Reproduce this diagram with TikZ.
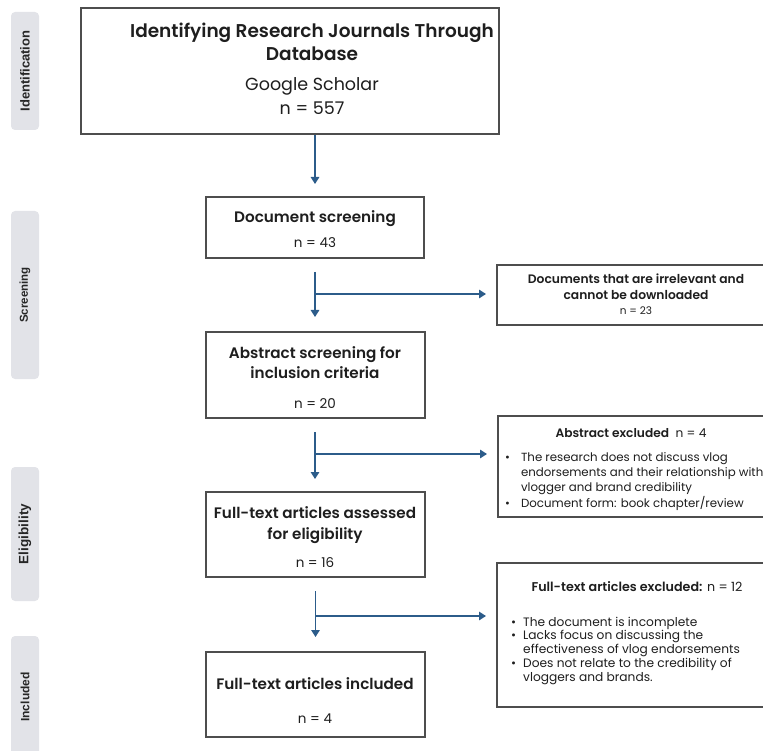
\documentclass[tikz,border=0pt]{standalone}
\usepackage{fontspec}
\setmainfont{Poppins}[BoldFont={Poppins SemiBold}]
\newfontfamily\labfont{Liberation Sans}
\usetikzlibrary{arrows.meta}
\definecolor{arrblue}{RGB}{44,92,138}
\definecolor{boxgray}{RGB}{78,78,78}
\definecolor{labgray}{RGB}{226,227,232}
\definecolor{txt}{RGB}{30,30,30}
\begin{document}
\begin{tikzpicture}[x=1pt,y=-1pt,
  box/.style={draw=boxgray, line width=2pt, inner sep=0pt, fill=white, rectangle},
  arr/.style={draw=arrblue, line width=1.5pt, -{Triangle[length=7pt,width=8.5pt]}},
  phase/.style={fill=labgray, rounded corners=4pt, inner sep=0pt, rectangle},
  phasetext/.style={rotate=90, inner sep=0pt, text=black!85},
  mtext/.style={align=center, inner sep=0pt, text=txt},
  btext/.style={align=left, inner sep=0pt, text=txt, anchor=west}
]
\useasboundingbox (0,0) rectangle (763,751);
\clip (0,0) rectangle (763,751);

% phase labels
\node[phase, minimum width=28pt, minimum height=118pt] (pid) at (25,71) {};
\node[phase, minimum width=28pt, minimum height=168pt] (pscr) at (25,295) {};
\node[phase, minimum width=28pt, minimum height=134pt] (pel) at (25,534) {};
\node[phase, minimum width=28pt, minimum height=124pt] (pin) at (25,698) {};
\node[phasetext, font=\labfont\bfseries\fontsize{13}{15}\selectfont] (lid) at (pid.center) {Identification};
\node[phasetext, font=\labfont\bfseries\fontsize{11.5}{14}\selectfont] (lscr) at (pscr.center) {Screening};
\node[phasetext, font=\labfont\bfseries\fontsize{13.5}{15}\selectfont] (lel) at (pel.center) {Eligibility};
\node[phasetext, font=\labfont\bfseries\fontsize{12}{14}\selectfont] (lin) at (25,697) {Included};

% main boxes
\node[box, minimum width=418pt, minimum height=126pt] (top) at (290,71) {};
\node[box, minimum width=218pt, minimum height=61pt] (dscr) at (315,227.5) {};
\node[box, minimum width=219pt, minimum height=86pt] (abs) at (315,375) {};
\node[box, minimum width=219pt, minimum height=85pt] (full) at (315.5,534.5) {};
\node[box, minimum width=219pt, minimum height=85pt] (incl) at (315.5,694.5) {};

% right boxes
\node[box, minimum width=278pt, minimum height=60pt] (rb1) at (636,295) {};
\node[box, minimum width=277pt, minimum height=101pt] (rb2) at (636.5,466.5) {};
\node[box, minimum width=278pt, minimum height=144pt] (rb3) at (636,635) {};

% main texts
\node[mtext, font=\fontsize{18.5}{23.5}\selectfont] (ttop) at (312,68.5) {%
  {\bfseries Identifying Research Journals Through}\\
  {\bfseries Database}\\[6.5pt]
  {\fontsize{17.5}{23.5}\selectfont Google Scholar}\\
  {\fontsize{17.5}{23.5}\selectfont n = 557}};
\node[mtext, font=\fontsize{15.2}{20}\selectfont] (tdscr) at (315,229.5) {%
  {\bfseries Document screening}\\[5pt]
  {\fontsize{13.5}{20}\selectfont n = 43}};
\node[mtext, font=\fontsize{15.2}{20}\selectfont] (tabs) at (315,378) {%
  {\bfseries Abstract screening for}\\
  {\bfseries inclusion criteria}\\[10pt]
  {\fontsize{13.5}{20}\selectfont n = 20}};
\node[mtext, font=\fontsize{15.2}{21}\selectfont] (tfull) at (315,537.5) {%
  {\bfseries Full-text articles assessed}\\
  {\bfseries for eligibility}\\[7pt]
  {\fontsize{13.5}{21}\selectfont n = 16}};
\node[mtext, font=\fontsize{15.2}{20}\selectfont] (tincl) at (315,701) {%
  {\bfseries Full-text articles included}\\[14pt]
  {\fontsize{13.5}{20}\selectfont n = 4}};

% right texts
\node[mtext, font=\fontsize{12.3}{15.5}\selectfont] (trb1) at (636,294.5) {%
  {\bfseries Documents that are irrelevant and}\\
  {\bfseries cannot be downloaded}\\
  {\fontsize{10.5}{15.5}\selectfont n = 23}};
\node[mtext, font=\fontsize{12.2}{15}\selectfont] (trb2t) at (631,433) {{\bfseries Abstract excluded}\ \ n = 4};
\node[btext] (trb2b) at (505,481.5) {\fontsize{11.8}{15}\selectfont
  \begin{tabular}{@{}l@{\hspace{11pt}}l@{}}
  \textbullet & The research does not discuss vlog\\
  & endorsements and their relationship with\\
  & vlogger and brand credibility\\
  \textbullet & Document form: book chapter/review
  \end{tabular}};
\node[mtext, font=\fontsize{12.7}{15}\selectfont] (trb3t) at (637,587) {{\bfseries Full-text articles excluded:} n = 12};
\node[btext] (trb3b) at (511,651) {\fontsize{12.2}{13.8}\selectfont
  \begin{tabular}{@{}l@{\hspace{7pt}}l@{}}
  \textbullet & The document is incomplete\\
  \textbullet & Lacks focus on discussing the\\
  & effectiveness of vlog endorsements\\
  \textbullet & Does not relate to the credibility of\\
  & vloggers and brands.
  \end{tabular}};

% connectors
\draw[arr, shorten >=12pt] (top.south -| dscr.north) -- (dscr.north);

\draw[arr, shorten <=13pt, shorten >=14pt] (dscr.south) -- (dscr.south |- abs.north);
\coordinate (j1) at (315,294);
\draw[arr, shorten >=10pt] (j1) -- (j1 -| rb1.west);

\draw[arr, shorten <=13pt, shorten >=12pt] (abs.south) -- (abs.south |- full.north);
\coordinate (j2) at (315,454);
\draw[arr, shorten >=10pt] (j2) -- (j2 -| rb2.west);

\draw[arr, shorten <=13pt, shorten >=14pt] (full.south) -- (full.south |- incl.north);
\coordinate (j3) at (315,616);
\draw[arr, shorten >=10pt] (j3) -- (j3 -| rb3.west);
\end{tikzpicture}
\end{document}
